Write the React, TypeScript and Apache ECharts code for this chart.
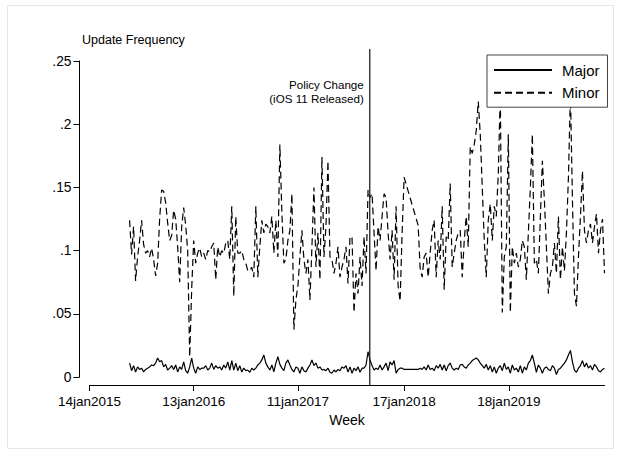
import React, { useEffect, useRef } from "react";
import * as echarts from "echarts";

// ---- data ----
const firstWeek = "2015-06-03";
const axisStart = "2015-01-14";
const policyDate = "2017-09-19";
const policyLines = ["Policy Change", "(iOS 11 Released)"];
const yTitle = "Update Frequency";
const xTitle = "Week";
const seriesNames = ["Major", "Minor"];
const tickDates = ["2015-01-14", "2016-01-13", "2017-01-11", "2018-01-17", "2019-01-18"];
const tickLabels = ["14jan2015", "13jan2016", "11jan2017", "17jan2018", "18jan2019"];
const yTicks = [0, 0.05, 0.1, 0.15, 0.2, 0.25];
const yTickLabels = ["0", ".05", ".1", ".15", ".2", ".25"];

// weekly values starting at firstWeek (null = missing week)
const major: (number | null)[] = [
  0.011, 0.005, 0.009, 0.004, 0.008, 0.006, 0.007, 0.004, 0.006, 0.007,
  0.008, 0.0095, 0.009, 0.011, 0.015, 0.012, 0.013, 0.008, 0.010, 0.0055,
  0.007, 0.009, 0.006, 0.0095, 0.004, 0.008, 0.006, 0.012, 0.005, 0.003,
  0.008, 0.015, 0.007, 0.003, 0.008, 0.006, 0.007, 0.007, 0.009, 0.0055,
  0.007, 0.011, 0.006, 0.009, 0.007, 0.008, 0.0055, 0.0095, 0.007, 0.012,
  0.0055, 0.013, 0.0055, 0.011, 0.005, 0.009, 0.004, 0.007, 0.005, 0.0055,
  0.0037, 0.007, 0.0055, 0.007, 0.0095, 0.011, 0.0135, 0.0174, 0.011, 0.008,
  0.0055, 0.0095, 0.004, 0.011, 0.016, 0.010, 0.007, 0.005, 0.011, 0.0135,
  0.0095, 0.006, 0.004, 0.008, 0.007, 0.003, 0.008, 0.005, 0.004, 0.007,
  0.0095, 0.0135, 0.009, 0.011, 0.007, 0.008, 0.0055, 0.006, 0.005, 0.007,
  0.0037, 0.003, 0.0055, 0.004, 0.006, 0.005, 0.008, 0.007, 0.009, 0.004,
  0.008, 0.003, 0.007, 0.005, 0.008, 0.0037, 0.007, 0.007, 0.0095, 0.020,
  0.0135, 0.009, 0.0055, 0.007, 0.006, 0.0095, 0.0055, 0.008, 0.011, 0.005,
  0.012, 0.0095, 0.013, 0.003, 0.006, 0.007, 0.007, 0.006, null, null,
  null, null, null, null, 0.006, 0.007, 0.006, 0.008, 0.0055, 0.0095,
  0.006, 0.007, 0.005, 0.009, 0.007, 0.010, 0.0055, 0.0095, 0.005, 0.009,
  0.011, 0.007, 0.0055, 0.007, 0.006, 0.0095, 0.010, 0.008, 0.007, 0.0095,
  0.011, 0.013, 0.014, 0.015, 0.0135, 0.011, 0.009, 0.007, 0.010, 0.0055,
  0.009, 0.004, 0.008, 0.003, 0.007, 0.009, 0.005, 0.011, 0.006, 0.008,
  0.003, 0.0095, 0.0055, 0.007, 0.004, 0.009, 0.003, 0.008, 0.0055, 0.011,
  0.013, 0.0174, 0.011, 0.0037, 0.0095, 0.007, 0.003, 0.007, 0.008, 0.006,
  0.005, 0.009, 0.007, 0.002, 0.006, 0.007, 0.009, 0.011, 0.0135, 0.0174,
  0.021, 0.012, 0.0055, 0.0037, 0.007, 0.009, 0.013, 0.008, 0.011, 0.007,
  0.009, 0.0055, 0.010, 0.008, 0.005, 0.004, 0.006, 0.007,
];

const minor: (number | null)[] = [
  0.124, 0.097, 0.119, 0.076, 0.095, 0.108, 0.124, 0.105, 0.098, 0.100,
  0.095, 0.102, 0.093, 0.080, 0.090, 0.125, 0.148, 0.147, 0.138, 0.122,
  0.108, 0.112, 0.132, 0.125, 0.103, 0.075, 0.119, 0.134, 0.120, 0.100,
  0.016, 0.070, 0.108, 0.090, 0.098, 0.102, 0.095, 0.098, 0.093, 0.100,
  0.099, 0.103, 0.106, 0.077, 0.103, 0.095, 0.100, 0.098, 0.106, 0.108,
  0.093, 0.135, 0.064, 0.127, 0.098, 0.098, 0.100, 0.093, 0.090, 0.084,
  0.084, 0.087, 0.079, 0.135, 0.079, 0.103, 0.124, 0.114, 0.121, 0.119,
  0.114, 0.127, 0.098, 0.124, 0.095, 0.184, 0.130, 0.090, 0.093, 0.108,
  0.116, 0.145, 0.0375, 0.061, 0.072, 0.095, 0.116, 0.093, 0.082, 0.093,
  0.061, 0.103, 0.150, 0.087, 0.114, 0.077, 0.174, 0.095, 0.119, 0.171,
  0.095, 0.093, 0.082, 0.090, 0.103, 0.079, 0.087, 0.093, 0.103, 0.074,
  0.111, 0.111, 0.051, 0.082, 0.066, 0.095, 0.072, 0.111, 0.082, 0.148,
  0.142, 0.145, 0.114, 0.084, 0.119, 0.108, 0.127, 0.145, 0.142, 0.114,
  0.093, 0.116, 0.077, 0.135, 0.072, 0.060, 0.114, 0.158, null, null,
  null, null, null, null, 0.120, 0.086, 0.079, 0.095, 0.098, 0.079,
  0.098, 0.116, 0.124, 0.079, 0.108, 0.093, 0.135, 0.069, 0.111, 0.108,
  0.153, 0.087, 0.098, 0.108, 0.114, 0.116, 0.079, 0.108, 0.127, 0.103,
  0.182, 0.177, 0.184, 0.195, 0.218, 0.192, 0.150, 0.108, 0.079, 0.124,
  0.137, 0.108, 0.135, 0.127, 0.161, 0.225, 0.051, 0.095, 0.103, 0.192,
  0.051, 0.103, 0.090, 0.098, 0.087, 0.093, 0.108, 0.103, 0.077, 0.114,
  0.150, 0.192, 0.090, 0.093, 0.082, 0.127, 0.171, 0.140, 0.103, 0.066,
  0.082, 0.087, 0.106, 0.082, 0.127, 0.077, 0.103, 0.084, 0.114, 0.158,
  0.225, 0.140, 0.066, 0.056, 0.095, 0.127, 0.163, 0.116, 0.106, 0.116,
  0.121, 0.106, 0.119, 0.129, 0.098, 0.116, 0.125, 0.082,
];

const DAY = 86400000;
const ts = (s: string) => Date.parse(s + "T00:00:00Z");
const FONT = "'Liberation Sans', Arial, Helvetica, sans-serif";

export default function App() {
  const ref = useRef<HTMLDivElement>(null);
  useEffect(() => {
    if (!ref.current) return;
    const chart = echarts.init(ref.current, null, { renderer: "svg" });
    const t0 = ts(firstWeek);
    const weeks = major.map((_, i) => t0 + i * 7 * DAY);
    const tickTs = tickDates.map(ts);
    const toPairs = (arr: (number | null)[]) =>
      arr.map((v, i) => [weeks[i], v === null ? "-" : v]);

    chart.setOption({
      animation: false,
      backgroundColor: "#ffffff",
      textStyle: { fontFamily: FONT },
      grid: { left: 89.5, right: 16.5, top: 61, bottom: 77, containLabel: false },
      xAxis: {
        type: "value",
        min: ts(axisStart),
        max: weeks[weeks.length - 1],
        offset: 8,
        name: xTitle,
        nameLocation: "middle",
        nameGap: 26,
        nameTextStyle: { fontSize: 14, color: "#000", fontFamily: FONT },
        axisLine: { show: true, onZero: false, lineStyle: { color: "#000", width: 1 } },
        axisTick: { show: true, length: 6, customValues: tickTs, lineStyle: { color: "#000" } },
        axisLabel: {
          customValues: tickTs,
          formatter: (v: number) => {
            const k = tickTs.findIndex((t) => Math.abs(t - v) < DAY);
            return k >= 0 ? tickLabels[k] : "";
          },
          fontSize: 13.5,
          color: "#000",
          margin: 9,
          fontFamily: FONT,
        },
        splitLine: { show: false },
      },
      yAxis: {
        type: "value",
        min: 0,
        max: 0.25,
        interval: 0.05,
        offset: 10,
        axisLine: { show: true, lineStyle: { color: "#000", width: 1 } },
        axisTick: { show: true, length: 6, lineStyle: { color: "#000" } },
        axisLabel: {
          formatter: (v: number) => {
            const k = yTicks.findIndex((t) => Math.abs(t - v) < 1e-6);
            return k >= 0 ? yTickLabels[k] : "";
          },
          fontSize: 13.8,
          color: "#000",
          margin: 8,
          fontFamily: FONT,
        },
        splitLine: { show: false },
      },
      legend: {
        left: 487,
        top: 55,
        orient: "vertical",
        data: seriesNames,
        itemWidth: 58,
        itemHeight: 14,
        itemGap: 7.6,
        padding: [7.6, 8, 7, 6],
        backgroundColor: "#ffffff",
        borderColor: "#444",
        borderWidth: 1,
        borderRadius: 0,
        selectedMode: false,
        itemStyle: { opacity: 0, borderWidth: 0 },
        textStyle: { fontSize: 15, color: "#000", padding: [0, 0, 0, 5], fontFamily: FONT },
      },
      series: [
        {
          name: seriesNames[0],
          type: "line",
          data: toPairs(major),
          symbol: "none",
          showSymbol: false,
          connectNulls: true,
          lineStyle: { color: "#000", width: 1.2 },
          itemStyle: { color: "#000" },
        },
        {
          name: seriesNames[1],
          type: "line",
          data: toPairs(minor),
          symbol: "none",
          showSymbol: false,
          connectNulls: true,
          lineStyle: { color: "#000", width: 1.2, type: [7, 4] },
          itemStyle: { color: "#000" },
        },
      ],
    });

    const px = chart.convertToPixel({ xAxisIndex: 0 }, ts(policyDate)) as number;
    chart.setOption({
      graphic: [
        {
          type: "rect",
          silent: true,
          z: -1,
          shape: { x: 7.5, y: 5.5, width: 606, height: 443 },
          style: { fill: "none", stroke: "#e6e6e6", lineWidth: 1 },
        },
        {
          type: "line",
          silent: true,
          z: 100,
          shape: { x1: px, y1: 49, x2: px, y2: 385 },
          style: { stroke: "#222", lineWidth: 1.3 },
        },
        {
          type: "text",
          silent: true,
          x: px - 6,
          y: 84.6,
          style: {
            text: policyLines[0],
            align: "right",
            verticalAlign: "middle",
            fontSize: 11.6,
            fill: "#000",
            fontFamily: FONT,
          },
        },
        {
          type: "text",
          silent: true,
          x: px - 6,
          y: 98.3,
          style: {
            text: policyLines[1],
            align: "right",
            verticalAlign: "middle",
            fontSize: 11.6,
            fill: "#000",
            fontFamily: FONT,
          },
        },
        {
          type: "text",
          silent: true,
          x: 82,
          y: 33,
          style: { text: yTitle, fontSize: 12.5, fill: "#000", fontFamily: FONT, verticalAlign: "top" },
        },
      ],
    });

    return () => chart.dispose();
  }, []);

  return (
    <div
      ref={ref}
      style={{ position: "absolute", left: 0, top: 0, width: 621, height: 454 }}
    />
  );
}
